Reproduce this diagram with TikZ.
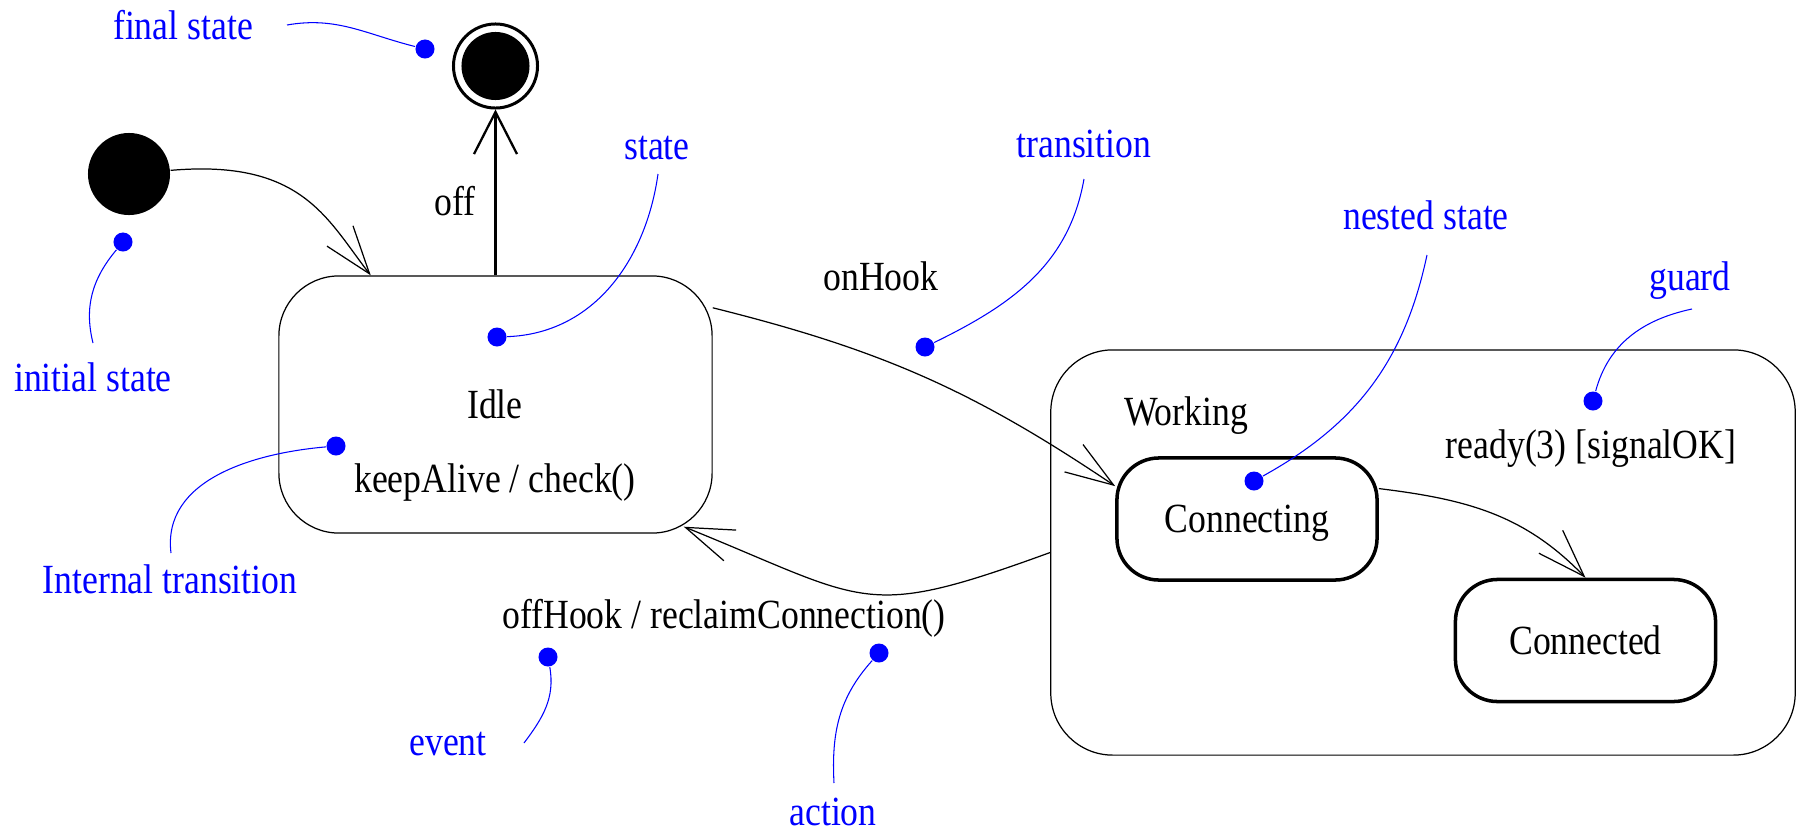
\documentclass[tikz,border=0pt]{standalone}
\usepackage{fontspec}
\setmainfont{Liberation Serif}[FakeStretch=0.86]
\usetikzlibrary{arrows.meta,calc}

\tikzset{
	txt/.style={font=\fontsize{11.8}{14}\selectfont, inner sep=0pt, anchor=base},
	note/.style={txt, text=blue},
	bigstate/.style={draw, line width=0.35pt, rounded corners=0.6cm, inner sep=0pt},
	substate/.style={draw, line width=1pt, rounded corners=0.42cm, minimum width=2.6cm, minimum height=1.22cm, inner sep=0pt, font=\fontsize{11.8}{14}\selectfont, text depth=0pt},
	startdot/.style={circle, fill=black, minimum size=0.82cm, inner sep=0pt},
	enddot/.style={circle, draw, line width=0.85pt, minimum size=0.84cm, inner sep=0pt, path picture={\fill (path picture bounding box.center) circle (0.34cm);}},
	notedot/.style={circle, fill=blue, minimum size=0.19cm, inner sep=0pt},
	noteline/.style={blue, line width=0.3pt},
	trans/.style={line width=0.35pt, -{Straight Barb[length=0.48cm, width=0.33cm]}},
	transthick/.style={line width=0.65pt, -{Straight Barb[length=0.42cm, width=0.43cm]}}
}

\begin{document}
\begin{tikzpicture}[x=0.01cm, y=-0.01cm]
	\useasboundingbox (0,0) rectangle (1799,830);
	% states
	\node[startdot] (init) at (129,174) {};
	\node[enddot] (final) at (495.5,66) {};
	\node[bigstate, minimum width=4.33cm, minimum height=2.57cm] (idle) at (495.5,404.5) {};
	\node[bigstate, rounded corners=0.62cm, minimum width=7.44cm, minimum height=4.05cm] (working) at (1423,552.5) {};
	\node[substate] (connecting) at (1247,519) {Connecting};
	\node[substate] (connected) at (1585.5,640.5) {Connected};
	\node[txt] (idlename) at (495,418) {Idle};
	\node[txt] (idleact) at (495,492) {keepAlive / check()};
	\node[txt] (workname) at (1186,425) {Working};
	% transitions
	\coordinate (idlecorner) at ($(idle.south east)+(-29,-7)$);
	\draw[trans] (init) to[out=5, in=128, out looseness=1.5, in looseness=0.8] (idle.134);
	\draw[transthick] (idle.north) -- (final);
	\draw[trans] (idle.24) to[out=-14, in=146] (connecting.166);
	\draw[trans] (working.west) to[out=200, in=-22, looseness=1.4] (idlecorner);
	\draw[trans] (connecting.13) to[out=-7, in=134] (connected.north);
	\node[txt] (offlbl) at (455,215) {off};
	\node[txt] (onhooklbl) at (881,290) {onHook};
	\node[txt] (offhooklbl) at (724,628) {offHook / reclaimConnection()};
	\node[txt] (readylbl) at (1591,458) {ready(3) [signalOK]};
	% notes
	\node[note] (lfinal) at (183,39) {final state};
	\node[note] (linit) at (93,391) {initial state};
	\node[note] (lint) at (170,593) {Internal transition};
	\node[note] (lstate) at (657,159) {state};
	\node[note] (ltrans) at (1084,157) {transition};
	\node[note] (lnested) at (1426,229) {nested state};
	\node[note] (lguard) at (1690,290) {guard};
	\node[note] (levent) at (448,755) {event};
	\node[note] (laction) at (833,825) {action};
	\node[notedot] (dfinal) at (425,49) {};
	\node[notedot] (dinit) at (123,242) {};
	\node[notedot] (dint) at (336,446) {};
	\node[notedot] (dstate) at (497,337) {};
	\node[notedot] (dtrans) at (925,347) {};
	\node[notedot] (dnested) at (1254,481) {};
	\node[notedot] (dguard) at (1593,401) {};
	\node[notedot] (devent) at (548,657) {};
	\node[notedot] (daction) at (879,653) {};
	\coordinate (cfinal) at (287,25);
	\coordinate (cinit) at (93,343);
	\coordinate (cint) at (171,553);
	\coordinate (cstate) at (658,174);
	\coordinate (ctrans) at (1084,179);
	\coordinate (cnested) at (1427,255);
	\coordinate (cguard) at (1692,309);
	\coordinate (cevent) at (524,743);
	\coordinate (caction) at (834,783);
	\draw[noteline] (cfinal) to[out=10, in=166] (dfinal);
	\draw[noteline] (dinit) to[out=230, in=104] (cinit);
	\draw[noteline] (dint) to[out=185, in=97] (cint);
	\draw[noteline] (dstate) to[out=2, in=262] (cstate);
	\draw[noteline] (dtrans) to[out=26, in=260] (ctrans);
	\draw[noteline] (dnested) to[out=29, in=258] (cnested);
	\draw[noteline] (dguard) to[out=75, in=192] (cguard);
	\draw[noteline] (devent) to[out=-80, in=53] (cevent);
	\draw[noteline] (daction) to[out=228, in=93] (caction);
\end{tikzpicture}
\end{document}
